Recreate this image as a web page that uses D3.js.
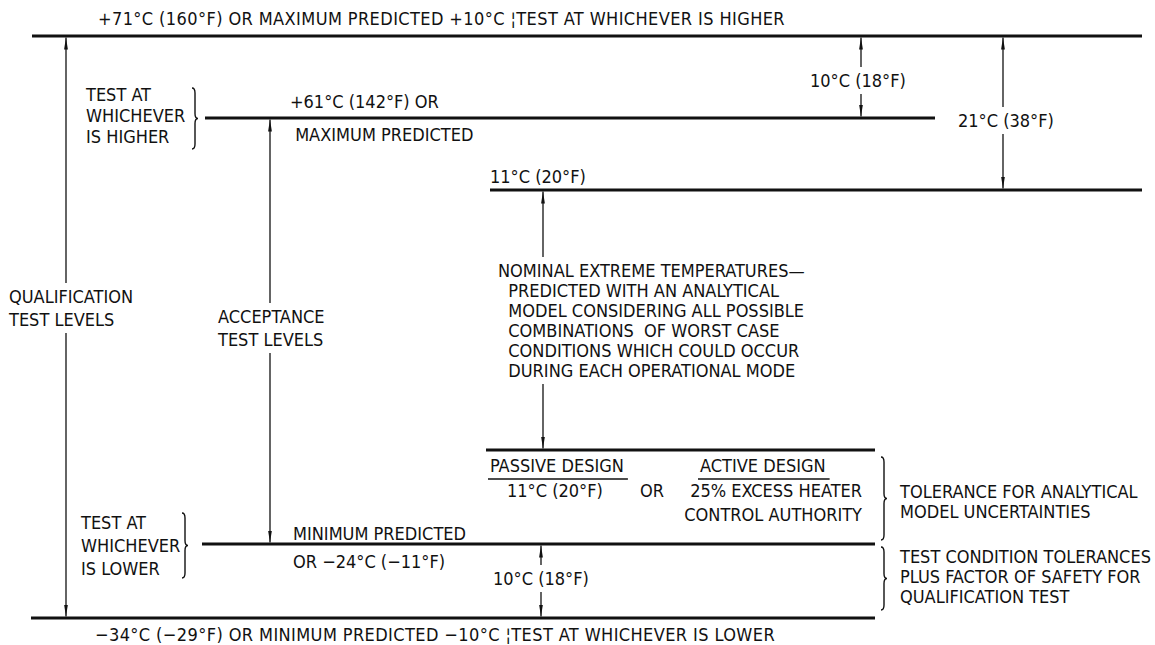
<!DOCTYPE html>
<html>
<head>
<meta charset="utf-8">
<script src="https://cdn.jsdelivr.net/npm/d3@7"></script>
<style>
  html, body { margin: 0; padding: 0; background: #fff; }
  svg text { font-family: "Liberation Sans Narrow", "DejaVu Sans Condensed", "Arial Narrow", sans-serif; font-size: 18px; fill: #111; }
  svg text.caption { letter-spacing: 0.4px; }
</style>
</head>
<body>
<script>
// temperature levels (°C), top to bottom
const levelKeys  = ['qualHigh', 'accHigh', 'nomHigh', 'nomLow', 'accLow', 'qualLow'];
const levelTemps = [71, 61, 50, -13, -24, -34];

// dimension arrows between levels
const spanKeys  = ['qual', 'acc', 'margHigh', 'totHigh', 'nominal', 'margLow'];
const spanFrom  = [71, 61, 71, 71, 50, -24];
const spanTo    = [-34, -24, 61, 50, -13, -34];
const spanLabels = [
  ['QUALIFICATION', 'TEST LEVELS'],
  ['ACCEPTANCE', 'TEST LEVELS'],
  ['10°C (18°F)'],
  ['21°C (38°F)'],
  ['NOMINAL EXTREME TEMPERATURES—', '  PREDICTED WITH AN ANALYTICAL', '  MODEL CONSIDERING ALL POSSIBLE',
   '  COMBINATIONS  OF WORST CASE', '  CONDITIONS WHICH COULD OCCUR', '  DURING EACH OPERATIONAL MODE'],
  ['10°C (18°F)']
];

// level captions
const topCaption    = '+71°C (160°F) OR MAXIMUM PREDICTED +10°C ¦TEST AT WHICHEVER IS HIGHER';
const bottomCaption = '−34°C (−29°F) OR MINIMUM PREDICTED −10°C ¦TEST AT WHICHEVER IS LOWER';
const accHighCaption = ['+61°C (142°F) OR', ' MAXIMUM PREDICTED'];
const accLowCaption  = ['MINIMUM PREDICTED', 'OR −24°C (−11°F)'];
const nomHighCaption = '11°C (20°F)';
const higherNote = ['TEST AT', 'WHICHEVER', 'IS HIGHER'];
const lowerNote  = ['TEST AT', 'WHICHEVER', 'IS LOWER'];
const designHeads = ['PASSIVE DESIGN', 'ACTIVE DESIGN'];
const passiveText = ['11°C (20°F)'];
const activeText  = ['25% EXCESS HEATER', 'CONTROL AUTHORITY'];
const orText = 'OR';
const toleranceNotes = [
  ['TOLERANCE FOR ANALYTICAL', 'MODEL UNCERTAINTIES'],
  ['TEST CONDITION TOLERANCES', 'PLUS FACTOR OF SAFETY FOR', 'QUALIFICATION TEST']
];

const width = 1155, height = 645;

// schematic (non-uniform) vertical scale: one row per level
const y = d3.scaleLinear().domain(levelTemps).range([36, 118, 190, 450, 544, 618]);

// layout
const lineX = {
  qualHigh: [32, 1142], accHigh: [205, 935], nomHigh: [490, 1142],
  nomLow: [486, 875], accLow: [202, 875], qualLow: [31, 875]
};
const spanLayout = {
  qual:     { ax: 66,   tx: 9,   ty: 303 },
  acc:      { ax: 270,  tx: 218, ty: 323 },
  margHigh: { ax: 861,  tx: 810, ty: 87 },
  totHigh:  { ax: 1003, tx: 958, ty: 127 },
  nominal:  { ax: 543,  tx: 498, ty: 277, lh: 20 },
  margLow:  { ax: 541,  tx: 493, ty: 585 }
};

const svg = d3.select('body').append('svg')
  .attr('width', width)
  .attr('height', height);

svg.append('rect').attr('width', width).attr('height', height).attr('fill', '#fff');

svg.append('defs').append('marker')
  .attr('id', 'head')
  .attr('viewBox', '0 0 12 6')
  .attr('refX', 12).attr('refY', 3)
  .attr('markerWidth', 12).attr('markerHeight', 6)
  .attr('markerUnits', 'userSpaceOnUse')
  .attr('orient', 'auto-start-reverse')
  .append('path')
  .attr('d', 'M0,1.1 L12,3 L0,4.9 Z')
  .attr('fill', '#111');

// level lines
svg.append('g').selectAll('line')
  .data(levelKeys.map((k, i) => ({ key: k, t: levelTemps[i] })))
  .join('line')
  .attr('x1', d => lineX[d.key][0])
  .attr('x2', d => lineX[d.key][1])
  .attr('y1', d => y(d.t))
  .attr('y2', d => y(d.t))
  .attr('stroke', '#111')
  .attr('stroke-width', 3);

// dimension arrows
const spans = spanKeys.map((k, i) => ({ key: k, from: spanFrom[i], to: spanTo[i], label: spanLabels[i], ...spanLayout[k] }));

svg.append('g').selectAll('line')
  .data(spans)
  .join('line')
  .attr('x1', d => d.ax).attr('x2', d => d.ax)
  .attr('y1', d => y(d.from) + 1.5)
  .attr('y2', d => y(d.to) - 1.5)
  .attr('stroke', '#111')
  .attr('stroke-width', 1.3)
  .attr('marker-start', 'url(#head)')
  .attr('marker-end', 'url(#head)');

// multi-line text helper, with optional white knock-out behind it
function block(lines, x, y0, opts = {}) {
  const lh = opts.lh || 22;
  const g = svg.append('g');
  const bg = g.append('rect').attr('fill', '#fff');
  const t = g.append('text')
    .attr('class', opts.cls || null)
    .attr('x', x).attr('y', y0)
    .attr('text-anchor', opts.anchor || 'start')
    .style('white-space', 'pre');
  t.selectAll('tspan')
    .data(lines)
    .join('tspan')
    .attr('x', x)
    .attr('y', (d, i) => y0 + i * lh)
    .text(d => d);
  if (opts.knock) {
    const b = t.node().getBBox();
    bg.attr('x', b.x - 2).attr('y', b.y - 3).attr('width', b.width + 4).attr('height', b.height + 6);
  } else {
    bg.remove();
  }
  return t;
}

spans.forEach(d => block(d.label, d.tx, d.ty, { lh: d.lh || 23, knock: true }));

// captions
block([topCaption], 98, 25, { cls: 'caption' });
block([bottomCaption], 95, 641, { cls: 'caption' });
block(accHighCaption, 290, 108, { lh: 33 });
block(accLowCaption, 293, 540, { lh: 28 });
block([nomHighCaption], 490, 183);
block(higherNote, 86, 101, { lh: 21 });
block(lowerNote, 81, 529, { lh: 23 });

// design options
const heads = [
  block([designHeads[0]], 490, 472),
  block([designHeads[1]], 700, 472)
];
heads.forEach(h => {
  const b = h.node().getBBox();
  svg.append('line')
    .attr('x1', b.x - 2).attr('x2', b.x + b.width + 4)
    .attr('y1', 479).attr('y2', 479)
    .attr('stroke', '#111').attr('stroke-width', 1.3);
});
block(passiveText, 507, 497);
block([orText], 640, 497);
block(activeText, 862, 497, { anchor: 'end', lh: 24 });

// tolerance notes
block(toleranceNotes[0], 900, 498, { lh: 20 });
block(toleranceNotes[1], 900, 563, { lh: 20 });

// braces "}"
function brace(x, y0, y1) {
  const w = 3, r = 5, ym = (y0 + y1) / 2;
  const p = d3.path();
  p.moveTo(x, y0);
  p.quadraticCurveTo(x + w, y0, x + w, y0 + r);
  p.lineTo(x + w, ym - r);
  p.quadraticCurveTo(x + w, ym, x + 2 * w, ym);
  p.quadraticCurveTo(x + w, ym, x + w, ym + r);
  p.lineTo(x + w, y1 - r);
  p.quadraticCurveTo(x + w, y1, x, y1);
  svg.append('path')
    .attr('d', p.toString())
    .attr('fill', 'none')
    .attr('stroke', '#111')
    .attr('stroke-width', 1.4);
}
brace(192, 88, 149);
brace(182, 513, 578);
brace(881, 457, 540);
brace(881, 547, 610);
</script>
</body>
</html>
